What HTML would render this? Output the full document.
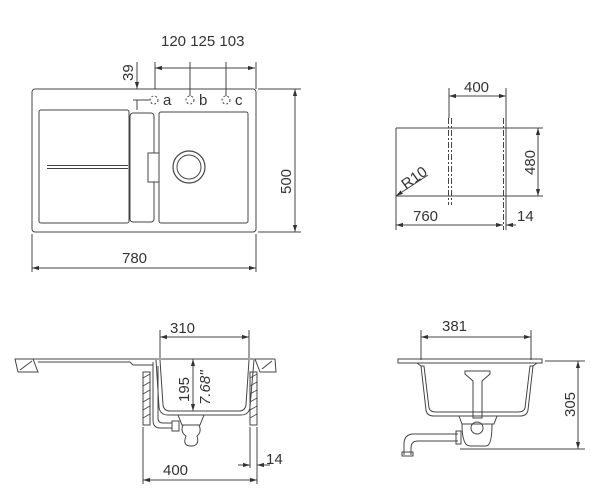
<!DOCTYPE html>
<html><head><meta charset="utf-8"><style>
html,body{margin:0;padding:0;background:#fff;width:600px;height:500px;overflow:hidden}
text{font-family:"Liberation Sans",sans-serif;font-size:15px;fill:#333}
</style></head><body>
<svg width="600" height="500" viewBox="0 0 600 500" xmlns="http://www.w3.org/2000/svg">
<defs>
<marker id="a" viewBox="0 0 10 10" refX="10" refY="5" markerWidth="7" markerHeight="7" orient="auto-start-reverse"><path d="M0,2 L10,5 L0,8 z" fill="#333"/></marker>
</defs>
<g fill="none" stroke="#444" stroke-width="1">
<rect x="32" y="89" width="224" height="143" rx="3"/>
<rect x="39" y="110" width="90" height="113" rx="2"/>
<rect x="130" y="113" width="24" height="109" rx="3"/>
<rect x="159" y="112" width="89" height="111" rx="2"/>
<line x1="47" y1="165.5" x2="128" y2="165.5"/><line x1="47" y1="168.5" x2="128" y2="168.5"/>
<rect x="148" y="153" width="11" height="29" fill="#fff"/>
<circle cx="189" cy="167" r="16" stroke-width="1.2"/><circle cx="189" cy="167" r="12"/>
<g stroke-dasharray="2,2"><circle cx="154" cy="100" r="4"/><circle cx="190" cy="100" r="4"/><circle cx="226" cy="100" r="4"/></g>
<line x1="155" y1="68" x2="255" y2="68" marker-start="url(#a)" marker-end="url(#a)"/>
<line x1="155" y1="62" x2="155" y2="89"/><line x1="256" y1="62" x2="256" y2="89"/>
<line x1="190" y1="62" x2="190" y2="96"/><line x1="226" y1="62" x2="226" y2="96"/>
<line x1="137" y1="62" x2="137" y2="89" marker-end="url(#a)"/>
<line x1="137" y1="110" x2="137" y2="100"/>
<line x1="133" y1="100" x2="150" y2="100"/>
<line x1="295" y1="89" x2="295" y2="232" marker-start="url(#a)" marker-end="url(#a)"/>
<line x1="258" y1="89" x2="301" y2="89"/><line x1="258" y1="232" x2="301" y2="232"/>
<line x1="32" y1="268" x2="256" y2="268" marker-start="url(#a)" marker-end="url(#a)"/>
<line x1="32" y1="234" x2="32" y2="272"/><line x1="256" y1="234" x2="256" y2="272"/>
<line x1="396" y1="128" x2="543" y2="128"/><line x1="396" y1="196" x2="543" y2="196"/>
<line x1="396" y1="128" x2="396" y2="230"/>
<g stroke-dasharray="6,2,2,2"><line x1="448.5" y1="118" x2="448.5" y2="205"/><line x1="451.5" y1="118" x2="451.5" y2="205"/><line x1="503.5" y1="118" x2="503.5" y2="230"/></g>
<line x1="506" y1="118" x2="506" y2="230"/>
<line x1="449" y1="88" x2="449" y2="118"/><line x1="506" y1="88" x2="506" y2="118"/>
<line x1="449" y1="96" x2="506" y2="96" marker-start="url(#a)" marker-end="url(#a)"/>
<line x1="538" y1="128" x2="538" y2="196" marker-start="url(#a)" marker-end="url(#a)"/>
<line x1="396" y1="225" x2="503" y2="225" marker-start="url(#a)" marker-end="url(#a)"/>
<line x1="516" y1="225" x2="506" y2="225" marker-end="url(#a)"/>
<line x1="428" y1="175" x2="396" y2="196" marker-end="url(#a)"/>
<line x1="160" y1="337" x2="249" y2="337" marker-start="url(#a)" marker-end="url(#a)"/>
<line x1="160" y1="330" x2="160" y2="358"/><line x1="249" y1="330" x2="249" y2="358"/>
<path d="M15,359 L33,359 L38,372 L18,372 Z"/>
<line x1="20" y1="370" x2="32" y2="361"/>
<path d="M33,359 L155,359 M38,362 L130,362 L133,365 L153,365"/>
<path d="M155,359 L275,359"/>
<path d="M255,359 L260,372 L276,372 L275,359"/><line x1="262" y1="369" x2="272" y2="361"/>
<path d="M160,360 L163,405 Q164,411 170,411 L239,411 Q245,411 246,405 L249,360"/>
<path d="M156,360 L159,407 Q160,415 168,415 L241,415 Q249,415 250,407 L254,360"/>
<rect x="143" y="372" width="7" height="53"/>
<rect x="250" y="372" width="7" height="53"/>
<g stroke-width="0.8"><path d="M143,378 L150,374 M143,386 L150,382 M143,394 L150,390 M143,402 L150,398 M143,410 L150,406 M143,418 L150,414 M250,378 L257,374 M250,386 L257,382 M250,394 L257,390 M250,402 L257,398 M250,410 L257,406 M250,418 L257,414"/></g>
<path d="M153,362 L153,420 Q153,428 160,428 L172,428 M158,366 L158,418 Q158,423 163,423 L172,423"/>
<rect x="172" y="421" width="7" height="10"/>
<path d="M178,415 L182,425 L200,425 L204,415 M183,425 Q180,432 186,436 Q182,446 191,446 Q200,446 197,436 Q202,432 199,425"/>
<line x1="193" y1="359" x2="193" y2="411" marker-start="url(#a)" marker-end="url(#a)"/>
<line x1="143" y1="427" x2="143" y2="484"/><line x1="257" y1="427" x2="257" y2="484"/>
<line x1="143" y1="480" x2="257" y2="480" marker-start="url(#a)" marker-end="url(#a)"/>
<line x1="238" y1="465" x2="250" y2="465" marker-end="url(#a)"/>
<line x1="270" y1="465" x2="257" y2="465" marker-end="url(#a)"/>
<line x1="250" y1="427" x2="250" y2="468"/>
<line x1="421" y1="337" x2="531" y2="337" marker-start="url(#a)" marker-end="url(#a)"/>
<line x1="421" y1="330" x2="421" y2="360"/><line x1="531" y1="330" x2="531" y2="360"/>
<path d="M398,359 L542,359 L542,363 L398,363 Z"/>
<path d="M417,363 L421,366 L426,410 Q427,416 434,416 L520,416 Q527,416 528,410 L533,366 L537,363"/>
<path d="M421,366 L424,366 L429,408 Q430,412 436,412 L518,412 Q524,412 525,408 L530,366 L533,366"/>
<path d="M465,371 L490,371 L490,374 L482,381 L482,418 L473,418 L473,381 L465,374 Z"/>
<path d="M459,416 L462,424 L494,424 L497,416"/>
<circle cx="477" cy="428" r="6"/>
<path d="M462,424 Q462,446 470,446 L486,446 Q492,446 492,424"/>
<path d="M458,434 L414,434 Q404,434 404,444 L404,455 M458,441 L418,441 Q411,441 411,448 L411,455"/>
<rect x="456" y="431" width="5" height="13"/>
<rect x="402" y="452" width="11" height="4"/>
<line x1="460" y1="449" x2="585" y2="449"/>
<line x1="545" y1="361" x2="585" y2="361"/>
<line x1="578" y1="361" x2="578" y2="449" marker-start="url(#a)" marker-end="url(#a)"/>
</g>
<text x="161" y="46" font-size="15.5">120 125 103</text>
<text x="163" y="105">a</text><text x="199" y="105">b</text><text x="235" y="105">c</text>
<text transform="translate(133,81) rotate(-90)">39</text>
<text transform="translate(291,194) rotate(-90)">500</text>
<text x="122" y="263">780</text>
<text x="464" y="92">400</text>
<text transform="translate(535,175) rotate(-90)">480</text>
<text x="413" y="221">760</text>
<text x="517" y="221">14</text>
<text transform="translate(406,190) rotate(-36)">R10</text>
<text x="170" y="333">310</text>
<text transform="translate(189,402) rotate(-90)">195</text>
<text transform="translate(210,405) rotate(-90)" font-style="italic">7.68"</text>
<text x="163" y="475">400</text>
<text x="266" y="464">14</text>
<text x="442" y="331">381</text>
<text transform="translate(575,417) rotate(-90)">305</text>
</svg>
</body></html>
